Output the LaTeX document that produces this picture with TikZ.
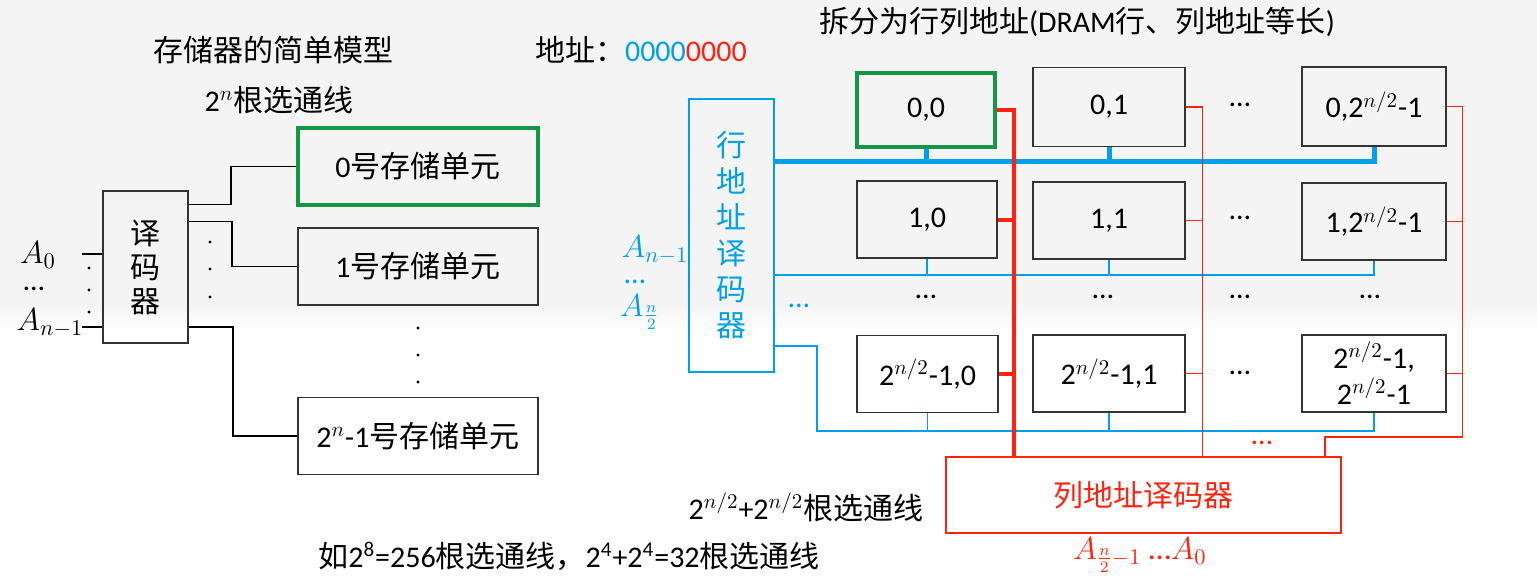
\documentclass[tikz,border=0pt]{standalone}
\usepackage{fix-cm}
\usepackage{fontspec}
\setmainfont{Carlito}
\newfontfamily\cjk{Noto Sans CJK SC}
\newcommand\hanzi[1]{{\cjk #1}}
\definecolor{rowblue}{RGB}{0,160,233}
\definecolor{colred}{RGB}{255,35,15}
\definecolor{selgreen}{RGB}{20,150,70}
\definecolor{bggray}{RGB}{244,244,244}

\begin{document}
\begin{tikzpicture}[x=0.5pt,y=-0.5pt,font=\fontsize{15}{18}\selectfont,
    cell/.style={draw=black!80,line width=0.8pt,minimum height=38.5pt,inner sep=0pt,align=center},
    sel/.style={draw=selgreen,line width=2pt},
    zh/.style={font=\fontsize{15}{18}\selectfont\cjk},
    lbl/.style={inner sep=0pt,font=\fontsize{16}{19}\selectfont},
    wire/.style={line width=0.7pt},
    bus/.style={draw=rowblue,line width=2.5pt},
    rowline/.style={draw=rowblue,line width=0.8pt},
    colbus/.style={draw=colred,line width=2pt},
    colline/.style={draw=colred,line width=0.6pt}]

    % Fond
    \fill[bggray] (0,0) rectangle (1537,305);
    \shade[top color=bggray,bottom color=white] (0,305) rectangle (1537,330);
    \useasboundingbox (0,0) rectangle (1537,585);

    % Modele simple
    \node (title1) at (273,50) {\hanzi{存储器的简单模型}};
    \node (nlines) at (279,100) {2$^{n}$\hanzi{根选通线}};
    \node[cell,zh,minimum width=42.5pt,minimum height=76pt,font=\fontsize{15}{17}\selectfont\cjk] (dec) at (145.5,267) {译\\码\\器};
    \node[cell,sel,minimum width=120pt] (cell0) at (418,166.5) {0\hanzi{号存储单元}};
    \node[cell,minimum width=120pt] (cell1) at (418,266.5) {1\hanzi{号存储单元}};
    \node[cell,minimum width=120pt] (cellN) at (418,436) {2$^{n}$-1\hanzi{号存储单元}};
    \foreach \y in {328,355,382} \fill (418,\y) circle (0.8pt);
    \foreach \y in {242,269,297} \fill (210,\y) circle (0.8pt);
    \foreach \y in {268,290,312} \fill (89,\y) circle (0.8pt);

    % Lignes de selection
    \draw[wire] ([yshift=-7pt]dec.north east) -- ++(21pt,0) |- (cell0.west);
    \draw[wire] ([yshift=-15.5pt]dec.north east) -- ++(21.5pt,0) |- (cell1.west);
    \draw[wire] ([yshift=8.5pt]dec.south east) -- ++(22pt,0) |- (cellN.west);

    % Entrees
    \draw[wire] ([yshift=6.5pt]dec.west) -- ++(-10pt,0) coordinate (ain0);
    \draw[wire] ([yshift=-30pt]dec.west) -- ++(-10pt,0) coordinate (ainN);
    \node[lbl] (a0) at (38,255) {$A_0$};
    \node[inner sep=0pt] (adots) at (34,289) {…};
    \node[lbl] (an) at (50,323) {$A_{n-1}$};

    % Adresse
    \node[anchor=west] (addr) at (528,50) {\hanzi{地址：}\textcolor{rowblue}{0000}\textcolor{colred}{0000}};

    % Adresses ligne / colonne
    \node (title2) at (1077,22) {\hanzi{拆分为行列地址}(DRAM\hanzi{行、列地址等长})};
    \node[cell,zh,draw=rowblue,line width=0.6pt,text=rowblue,minimum width=42.5pt,minimum height=136.5pt] (rdec) at (731.5,235.5) {行\\地\\址\\译\\码\\器};
    \node[lbl,text=rowblue] (ra1) at (655,250) {$A_{n-1}$};
    \node[inner sep=0pt,text=rowblue] (radots) at (635,282) {…};
    \node[lbl,text=rowblue] (ra2) at (640,312) {$A_{\frac{n}{2}}$};
    \node[text=rowblue] (rdots) at (799,306) {…};

    % Matrice
    \node[cell,sel,minimum width=69pt,minimum height=37pt] (g00) at (926,110) {0,0};
    \node[cell,minimum width=76pt,minimum height=39.5pt] (g01) at (1109,107) {0,1};
    \node[cell,minimum width=72pt,minimum height=39.5pt] (g0L) at (1374,106.5) {0,2$^{n/2}$-1};
    \node[cell,minimum width=70pt] (g10) at (927,219.5) {1,0};
    \node[cell,minimum width=76pt] (g11) at (1109,220.5) {1,1};
    \node[cell,minimum width=72pt] (g1L) at (1374,221.5) {1,2$^{n/2}$-1};
    \node[cell,minimum width=70.5pt] (g20) at (927.5,374) {2$^{n/2}$-1,0};
    \node[cell,minimum width=76pt] (g21) at (1109,373.5) {2$^{n/2}$-1,1};
    \node[cell,minimum width=72pt] (g2L) at (1374,373.5) {2$^{n/2}$-1,\\2$^{n/2}$-1};
    \foreach \x/\y/\n in {1240/105/c0,1240/218/c1,1240/373/c2,926/297/r0,1103/297/r1,1240/297/r2,1370/297/r3}
        \node (dots\n) at (\x,\y) {…};

    % Lignes (bleu)
    \coordinate (bus0) at ([yshift=37.25pt]rdec.east);
    \draw[bus] (bus0) -| (g0L.south) (g00.south) -- (g00.south |- bus0) (g01.south) -- (g01.south |- bus0);
    \coordinate (bus1) at ([yshift=-19.75pt]rdec.east);
    \draw[rowline] (bus1) -| (g1L.south) (g10.south) -- (g10.south |- bus1) (g11.south) -- (g11.south |- bus1);
    \coordinate (bus2) at ([yshift=-55.25pt]rdec.east);
    \coordinate (bend2) at (817,431);
    \draw[rowline] (bus2) -| (bend2) -| (g2L.south) (g20.south) -- (g20.south |- bend2) (g21.south) -- (g21.south |- bend2);

    % Colonnes (rouge)
    \node[cell,zh,draw=colred,line width=0.6pt,text=colred,minimum width=197.5pt,minimum height=38pt] (cdec) at (1143.5,495) {列地址译码器};
    \draw[colbus] (g00.east) -- ++(8.5pt,0) coordinate (cb0) -- (cb0 |- cdec.north) (g10.east) -- (g10.east -| cb0) (g20.east) -- (g20.east -| cb0);
    \draw[colline] (g01.east) -- ++(8.5pt,0) coordinate (cb1) -- (cb1 |- cdec.north) (g11.east) -- (g11.east -| cb1) (g21.east) -- (g21.east -| cb1);
    \coordinate (bendL) at (1325,437);
    \draw[colline] (g0L.east) -- ++(8pt,0) coordinate (cbL) |- (bendL) -- (bendL |- cdec.north) (g1L.east) -- (g1L.east -| cbL) (g2L.east) -- (g2L.east -| cbL);
    \node[text=colred] (cdots) at (1262,443) {…};
    \node[lbl,text=colred] (caddr) at (1140,555) {$A_{\frac{n}{2}-1}$ …$A_0$};

    % Nombre de lignes
    \node (nlines2) at (806,507) {2$^{n/2}$+2$^{n/2}$\hanzi{根选通线}};
    \node (example) at (569,556) {\hanzi{如}2\textsuperscript{8}=256\hanzi{根选通线，}2\textsuperscript{4}+2\textsuperscript{4}=32\hanzi{根选通线}};

\end{tikzpicture}
\end{document}
